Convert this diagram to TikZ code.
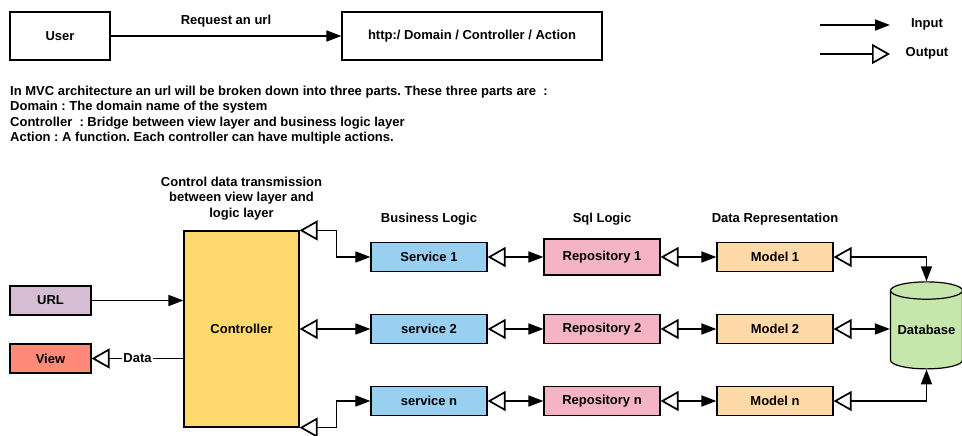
\documentclass[tikz,border=0pt]{standalone}
\usepackage{fontspec}
\setmainfont{Liberation Sans}
\usepackage{xcolor}
\usepackage{tikz}
\usetikzlibrary{positioning,%
  arrows.meta,%
  shapes.geometric,%
  calc
}
\frenchspacing

\definecolor{urlpurple}{RGB}{213,190,212}
\definecolor{viewred}{RGB}{255,138,122}
\definecolor{ctrlyellow}{RGB}{255,217,110}
\definecolor{serviceblue}{RGB}{153,208,241}
\definecolor{repopink}{RGB}{244,180,198}
\definecolor{modelpeach}{RGB}{255,218,168}
\definecolor{dbgreen}{RGB}{198,231,171}

\tikzset{
  every node/.style={font=\bfseries\fontsize{13}{15}\selectfont},
  box/.style={draw, line width=1.2pt, inner sep=0pt},
  small/.style={box, minimum width=116pt, minimum height=29pt},
  conn/.style={line width=1.7pt},
  inarrow/.style={conn, -{Triangle[length=15pt,width=11pt]}},
  outarrow/.style={conn, -{Triangle[fill=white,length=18pt,width=20pt]}},
  bothway/.style={conn, {Triangle[fill=white,length=18pt,width=20pt]}-{Triangle[length=15pt,width=11pt]}}
}

\begin{document}
\begin{tikzpicture}[x=1pt,y=-1pt]
            % Platzhalter
            \useasboundingbox (0,0) rectangle (962,436);

            % top row
            \node[box, minimum width=100pt, minimum height=48pt] (user) at (60,36) {User};
            \node[box, minimum width=260pt, minimum height=48pt] (addr) at (472,36) {http:/ Domain / Controller / Action};
            \draw[inarrow] (user) -- node[above=5pt] {Request an url} (addr);

            % legend
            \coordinate (ina) at (820,25);
            \coordinate (inb) at (890,25);
            \coordinate (outa) at (820,54);
            \coordinate (outb) at (890,54);
            \draw[inarrow] (ina) -- (inb);
            \draw[outarrow] (outa) -- (outb);
            \node (inlbl) at (927,24) {Input};
            \node (outlbl) at (927,53) {Output};

            % explanation
            \node[anchor=north west, align=left, inner sep=0pt, font=\bfseries\fontsize{13}{15.3}\selectfont] (expl) at (10,86)
              {In MVC architecture an url will be broken down into three parts. These three parts are\ \ :\\
               Domain : The domain name of the system\\
               Controller\ \ : Bridge between view layer and business logic layer\\
               Action : A function. Each controller can have multiple actions.};

            % left side
            \node[box, fill=ctrlyellow, minimum width=115pt, minimum height=196pt] (ctrl) at (241.5,329) {Controller};
            \node[align=center, font=\bfseries\fontsize{13}{15.5}\selectfont, above=7pt of ctrl] (ctrllbl) {Control data transmission\\between view layer and\\logic layer};
            \node[box, fill=urlpurple, minimum width=81pt, minimum height=29pt] (url) at (50.5,300.5) {URL};
            \node[box, fill=viewred, minimum width=81pt, minimum height=29pt] (view) at (50.5,358.5) {View};
            \draw[inarrow] (url) -- (url -| ctrl.west);
            \draw[outarrow] (view -| ctrl.west) -- node[fill=white, inner sep=1pt] {Data} (view);

            % services, repositories, models
            \foreach \n/\lbl/\y in {1/Service 1/257, 2/service 2/329, n/service n/401} {
              \node[small, fill=serviceblue] (s\n) at (429,\y) {\lbl};
              \node[small, fill=modelpeach] (m\n) at (775,\y) {Model \n};
            }
            \node[small, fill=repopink, minimum height=36pt] (r1) at (602,257) {Repository 1};
            \node[small, fill=repopink] (r2) at (602,329) {Repository 2};
            \node[small, fill=repopink] (rn) at (602,401) {Repository n};
            \node (bllbl) at (429,219) {Business Logic};
            \node (sqllbl) at (602,219) {Sql Logic};
            \node (drlbl) at (775,219) {Data Representation};

            \node[cylinder, shape border rotate=90, draw, line width=1.2pt, fill=dbgreen, aspect=0.3,
                  minimum width=72pt, minimum height=87pt, inner sep=0pt] (db) at (926.5,330) {Database};

            % connections
            \draw[bothway] (ctrl.north east) -- ++(37,0) |- (s1);
            \draw[bothway] (s2 -| ctrl.east) -- (s2);
            \draw[bothway] (ctrl.south east) -- ++(37,0) |- (sn);
            \foreach \n in {1,2,n} {
              \draw[bothway] (s\n) -- (r\n);
              \draw[bothway] (r\n) -- (m\n);
            }
            \draw[bothway] (m1) -| (db.north);
            \draw[bothway] (m2) -- (m2 -| db.west);
            \draw[bothway] (mn) -| (db.south);
\end{tikzpicture}
\end{document}
